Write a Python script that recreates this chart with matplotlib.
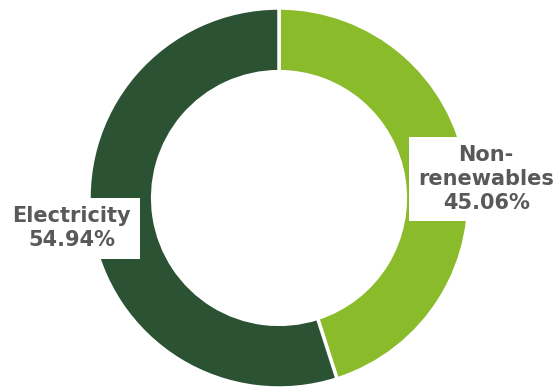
import matplotlib
matplotlib.use('Agg')
import matplotlib.pyplot as plt

# Data
labels = ['Non-\nrenewables', 'Electricity']
shares = [45.06, 54.94]
colors = ['#8ABB2A', '#2C5234']

# label positions (axes data coords, circle radius = 1)
label_pos = [(1.09, 0.10), (-1.09, -0.158)]

fig = plt.figure(figsize=(5.57, 3.89), dpi=100)
cx, cy, r = 279, 191, 190   # pixel centre (from bottom) and radius
ax = fig.add_axes([(cx - r) / 557, (cy - r) / 389, 2 * r / 557, 2 * r / 389])

ax.pie(shares, colors=colors, startangle=90, counterclock=False,
       radius=1.0, wedgeprops=dict(width=0.335, edgecolor='white', linewidth=2.5))
ax.set_xlim(-1, 1)
ax.set_ylim(-1, 1)
ax.set_aspect('equal')
ax.axis('off')

for lab, val, (x, y) in zip(labels, shares, label_pos):
    ax.text(x, y, '{}\n{:.2f}%'.format(lab, val), ha='center', va='center',
            fontsize=15, fontweight='bold', color='#595959', linespacing=1.22,
            bbox=dict(boxstyle='square,pad=0.42', facecolor='white', edgecolor='none'),
            clip_on=False)

fig.savefig('out.png', dpi=100)
